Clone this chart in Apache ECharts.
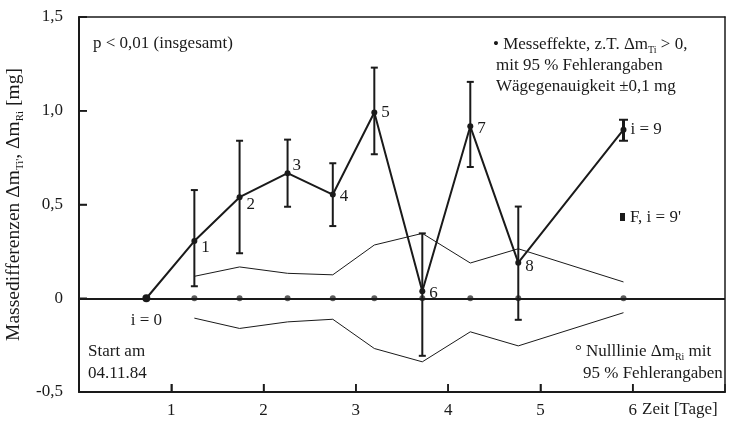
<!DOCTYPE html>
<html>
<head>
<meta charset="utf-8">
<script src="https://cdn.jsdelivr.net/npm/echarts@6/dist/echarts.min.js"></script>
<style>html,body{margin:0;padding:0;background:#fff}#c{width:729px;height:421px}</style>
</head>
<body>
<div id="c"></div>
<script>
// ---- data ----
const xValues   = [0.73, 1.25, 1.74, 2.26, 2.75, 3.20, 3.72, 4.24, 4.76, 5.90];
const measured  = [0, 0.305, 0.539, 0.667, 0.553, 0.991, 0.037, 0.917, 0.190, 0.899];
const errUpper  = [null, 0.577, 0.840, 0.846, 0.720, 1.230, 0.346, 1.154, 0.489, 0.952];
const errLower  = [null, 0.064, 0.240, 0.488, 0.385, 0.768, -0.307, 0.700, -0.115, 0.840];
const pointLabels = ['i = 0', '1', '2', '3', '4', '5', '6', '7', '8', 'i = 9'];
const nullLine  = [0, 0, 0, 0, 0, 0, 0, 0, 0];            // at xValues[1..9]
const envUpper  = [0.117, 0.167, 0.133, 0.125, 0.284, 0.346, 0.188, 0.264, 0.087];
const envLower  = [-0.106, -0.161, -0.126, -0.112, -0.268, -0.339, -0.179, -0.254, -0.077];
const xTickValues = [1, 2, 3, 4, 5, 6];
const xTickLabels = ['1', '2', '3', '4', '5', '6'];
const yTickValues = [-0.5, 0, 0.5, 1.0, 1.5];
const yTickLabels = ['-0,5', '0', '0,5', '1,0', '1,5'];

// ---- styling ----
const FONT = 'Liberation Serif';
const INK = '#1a1a1a';
const TICK = 8;
const labelOffsets = [[0,0],[0,6],[0,7],[-2,-8],[0,2],[0,0],[0,2],[0,2],[0,4],[0,0]];

const chart = echarts.init(document.getElementById('c'));

const mainData = xValues.map((x, i) => ({
  value: [x, measured[i]],
  symbolSize: i === 0 ? 8 : 6,
  label: {
    show: true,
    formatter: pointLabels[i],
    position: i === 0 ? 'bottom' : 'right',
    distance: i === 0 ? 10 : 4,
    offset: labelOffsets[i]
  }
}));

const errData = xValues.map((x, i) => [x, errLower[i], errUpper[i]]).filter(d => d[1] !== null);
const sub = xValues.slice(1);
const Y_MIN = yTickValues[0];
const X_MIN = 0;

const rich = {
  a: {fontFamily: FONT, fontSize: 17, color: INK, lineHeight: 20, verticalAlign: 'middle'},
  s: {fontFamily: FONT, fontSize: 10, color: INK, lineHeight: 10, verticalAlign: 'bottom'}
};
const richName = {
  a: {fontFamily: FONT, fontSize: 19.5, color: INK, lineHeight: 22, verticalAlign: 'middle'},
  s: {fontFamily: FONT, fontSize: 11, color: INK, lineHeight: 11, verticalAlign: 'bottom'}
};

function txt(x, y, text, extra) {
  return {
    type: 'text', x: x, y: y, silent: true,
    style: Object.assign({text: text, fontFamily: FONT, fontSize: 17, fill: INK, verticalAlign: 'middle', rich: rich}, extra || {})
  };
}

const frameAxis = {
  axisLine: {show: true, onZero: false, lineStyle: {color: INK, width: 1.5}},
  axisTick: {show: false}, axisLabel: {show: false}, splitLine: {show: false}
};

chart.setOption({
  animation: false,
  backgroundColor: '#fff',
  grid: {left: 79, right: 4, top: 17, bottom: 29, show: false,
         containLabel: false, outerBoundsMode: 'none'},
  xAxis: [{
    type: 'value', min: 0, max: 7, interval: 1,
    axisLine: {show: true, onZero: false, lineStyle: {color: INK, width: 2}},
    axisTick: {show: true, inside: true, length: TICK, lineStyle: {color: INK, width: 1.5}},
    splitLine: {show: false},
    axisLabel: {
      fontFamily: FONT, fontSize: 17, color: INK, margin: 10,
      formatter: v => { const k = xTickValues.indexOf(v); return k >= 0 ? xTickLabels[k] : ''; }
    }
  }, Object.assign({type: 'value', min: 0, max: 7, position: 'top'}, frameAxis)],
  yAxis: [{
    type: 'value', min: -0.5, max: 1.5, interval: 0.5,
    axisLine: {show: true, onZero: false, lineStyle: {color: INK, width: 2}},
    axisTick: {show: true, inside: true, length: TICK, lineStyle: {color: INK, width: 1.5}},
    splitLine: {show: false},
    axisLabel: {
      fontFamily: FONT, fontSize: 17, color: INK, margin: 16,
      formatter: v => { const k = yTickValues.findIndex(t => Math.abs(t - v) < 1e-9); return k >= 0 ? yTickLabels[k] : ''; }
    },
    name: '{a|Massedifferenzen Δm}{s|Ti\'}{a|, Δm}{s|Ri}{a| [mg]}',
    nameLocation: 'middle', nameGap: 47, nameRotate: 90,
    nameTextStyle: {rich: richName}
  }, Object.assign({type: 'value', min: -0.5, max: 1.5, position: 'right'}, frameAxis)],
  graphic: [
    txt(93, 44, 'p < 0,01 (insgesamt)'),
    txt(493, 45, '{a|• Messeffekte, z.T. Δm}{s|Ti}{a| > 0,}'),
    txt(496, 66, 'mit 95 % Fehlerangaben'),
    txt(496, 87, 'Wägegenauigkeit ±0,1 mg'),
    {type: 'rect', silent: true, shape: {x: 620, y: 213, width: 5, height: 8}, style: {fill: INK}},
    txt(630, 218, "F, i = 9'"),
    txt(575, 352, '{a|° Nulllinie Δm}{s|Ri}{a| mit}'),
    txt(583, 374, '95 % Fehlerangaben'),
    txt(88, 352, 'Start am'),
    txt(88, 374, '04.11.84'),
    txt(642, 410, 'Zeit [Tage]')
  ],
  series: [
    {
      type: 'custom', name: 'xTicks', data: xTickValues.map(v => [v, Y_MIN]), z: 6, silent: true, clip: false,
      renderItem: function (params, api) {
        const p = api.coord([api.value(0), api.value(1)]);
        return {type: 'line', shape: {x1: p[0], y1: p[1], x2: p[0], y2: p[1] - TICK},
                style: {stroke: INK, lineWidth: 1.5}};
      }
    },
    {
      type: 'custom', name: 'yTicks', data: yTickValues.map(v => [X_MIN, v]), z: 6, silent: true, clip: false,
      renderItem: function (params, api) {
        const p = api.coord([api.value(0), api.value(1)]);
        return {type: 'line', shape: {x1: p[0], y1: p[1], x2: p[0] + TICK, y2: p[1]},
                style: {stroke: INK, lineWidth: 1.5}};
      }
    },
    {
      type: 'line', name: 'envUpper', data: sub.map((x, i) => [x, envUpper[i]]),
      symbol: 'none', lineStyle: {color: INK, width: 1}, z: 2, silent: true
    },
    {
      type: 'line', name: 'envLower', data: sub.map((x, i) => [x, envLower[i]]),
      symbol: 'none', lineStyle: {color: INK, width: 1}, z: 2, silent: true
    },
    {
      type: 'scatter', name: 'null', data: sub.map((x, i) => [x, nullLine[i]]),
      symbol: 'circle', symbolSize: 6, itemStyle: {color: '#333'}, z: 3, silent: true,
      markLine: {
        silent: true, symbol: 'none', label: {show: false},
        lineStyle: {color: INK, width: 2, type: 'solid'},
        data: [{yAxis: 0}]
      }
    },
    {
      type: 'custom', name: 'err', data: errData, z: 4, silent: true,
      renderItem: function (params, api) {
        const x = api.value(0);
        const lo = api.coord([x, api.value(1)]);
        const hi = api.coord([x, api.value(2)]);
        const last = params.dataIndex === errData.length - 1;
        const lw = last ? 3 : 2;
        const w = last ? 4.5 : 3.5;
        const st = {stroke: INK, lineWidth: lw};
        return {
          type: 'group', children: [
            {type: 'line', shape: {x1: lo[0], y1: lo[1], x2: hi[0], y2: hi[1]}, style: st},
            {type: 'line', shape: {x1: lo[0] - w, y1: lo[1], x2: lo[0] + w, y2: lo[1]}, style: {stroke: INK, lineWidth: 2}},
            {type: 'line', shape: {x1: hi[0] - w, y1: hi[1], x2: hi[0] + w, y2: hi[1]}, style: {stroke: INK, lineWidth: 2}}
          ]
        };
      }
    },
    {
      type: 'line', name: 'main', data: mainData, z: 5, silent: true,
      symbol: 'circle', itemStyle: {color: INK},
      lineStyle: {color: INK, width: 2},
      label: {fontFamily: FONT, fontSize: 17, color: INK}
    }
  ]
});
</script>
</body>
</html>
